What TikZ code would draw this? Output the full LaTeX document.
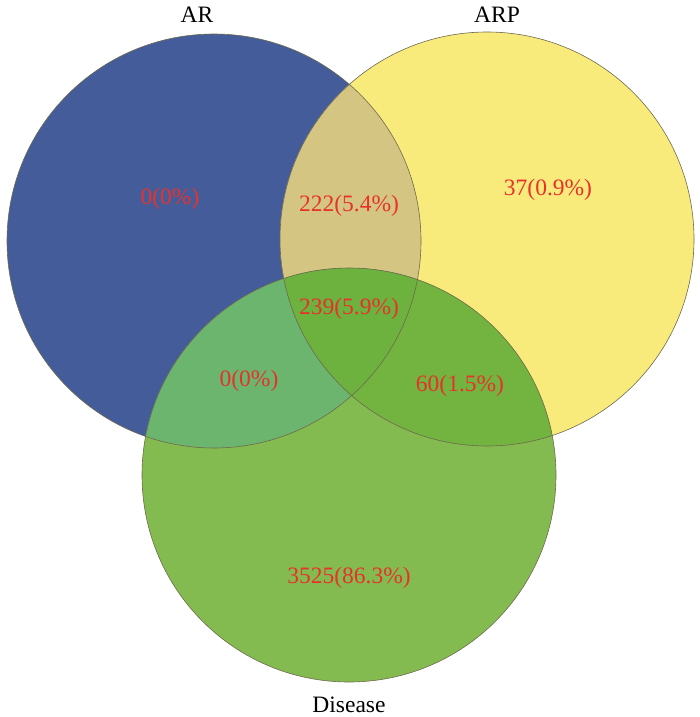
\documentclass[tikz,border=0pt]{standalone}
\usepackage{fontspec}
\setmainfont{Liberation Serif}
\definecolor{arblue}{HTML}{445D9A}
\definecolor{arpyellow}{HTML}{F9EA7C}
\definecolor{disgreen}{HTML}{84BB50}
\definecolor{tan}{HTML}{D5C583}
\definecolor{ardis}{HTML}{6BB56F}
\definecolor{arpdis}{HTML}{72B43F}
\definecolor{triple}{HTML}{6DB13E}
\definecolor{numred}{HTML}{E8312B}
\definecolor{edge}{HTML}{6E6A4E}
\begin{document}
\begin{tikzpicture}[x=1pt,y=-1pt,
  setlabel/.style={font=\fontsize{23.5}{26}\selectfont,text=black},
  numlabel/.style={font=\fontsize{23.5}{26}\selectfont,text=numred},
  ring/.style={draw=edge,line width=0.6pt}]
\useasboundingbox (0,0) rectangle (700,717);
\def\rr{207}
\coordinate (cA) at (214,241);
\coordinate (cB) at (487,239);
\coordinate (cC) at (349,475);
% base fills
\fill[arblue] (cA) circle (\rr);
\fill[arpyellow] (cB) circle (\rr);
\fill[disgreen] (cC) circle (\rr);
% pairwise overlaps
\begin{scope}\clip (cA) circle (\rr); \fill[tan] (cB) circle (\rr); \fill[ardis] (cC) circle (\rr);\end{scope}
\begin{scope}\clip (cB) circle (\rr); \fill[arpdis] (cC) circle (\rr);\end{scope}
\begin{scope}\clip (cA) circle (\rr); \clip (cB) circle (\rr); \fill[triple] (cC) circle (\rr);\end{scope}
% outlines
\draw[ring] (cA) circle (\rr);
\draw[ring] (cB) circle (\rr);
\draw[ring] (cC) circle (\rr);
% set labels
\node[setlabel] (lA) at (197,15) {AR};
\node[setlabel] (lB) at (497,15) {ARP};
\node[setlabel] (lC) at (349,705) {Disease};
% counts
\node[numlabel] (nA) at (170,199) {0(0\%)};
\node[numlabel] (nAB) at (349,206) {222(5.4\%)};
\node[numlabel] (nB) at (548,190) {37(0.9\%)};
\node[numlabel] (nABC) at (349,309) {239(5.9\%)};
\node[numlabel] (nAC) at (249,381) {0(0\%)};
\node[numlabel] (nBC) at (460,386) {60(1.5\%)};
\node[numlabel] (nC) at (349,578) {3525(86.3\%)};
\end{tikzpicture}
\end{document}
